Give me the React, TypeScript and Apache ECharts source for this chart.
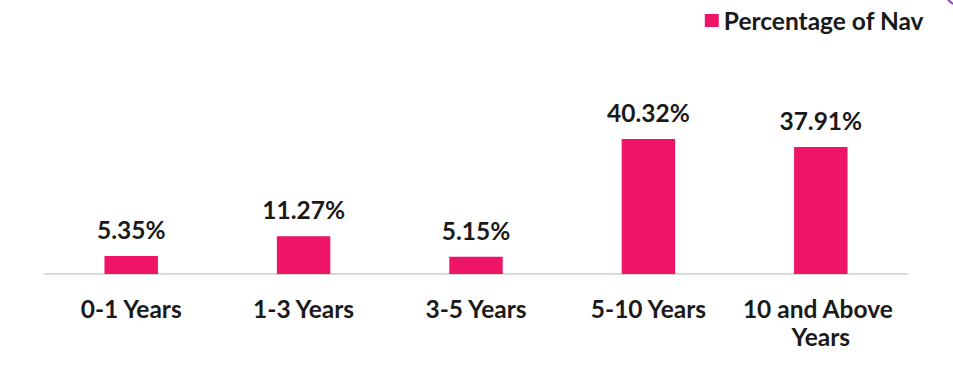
import React, { useEffect, useRef } from "react";
import * as echarts from "echarts";

const categories = ["0-1 Years", "1-3 Years", "3-5 Years", "5-10 Years", "10 and Above Years"];
const navValues = [5.35, 11.27, 5.15, 40.32, 37.91];
const seriesName = "Percentage of Nav";

export default function App() {
  const ref = useRef<HTMLDivElement>(null);
  useEffect(() => {
    document.body.style.margin = "0";
    const chart = echarts.init(ref.current!, null, { renderer: "svg" });
    const font = "Lato, 'Noto Sans', sans-serif";
    const fs = 24.5;
    chart.setOption({
      animation: false,
      backgroundColor: "#ffffff",
      textStyle: { fontFamily: font },
      legend: {
        data: [seriesName],
        right: 24,
        top: 3,
        itemWidth: 14,
        itemHeight: 13,
        itemGap: 6,
        icon: "rect",
        textStyle: { fontFamily: font, fontWeight: "bold", fontSize: fs, color: "#1a1a1a" },
      },
      grid: { left: 45, right: 46, top: 106.5, bottom: 98, containLabel: false },
      xAxis: {
        type: "category",
        data: categories,
        axisLine: { lineStyle: { color: "#d9d9d9", width: 2 } },
        axisTick: { show: false },
        axisLabel: {
          interval: 0,
          margin: 20,
          fontFamily: font,
          fontWeight: "bold",
          fontSize: fs,
          lineHeight: 28,
          color: "#1a1a1a",
          width: 172,
          overflow: "break",
        },
      },
      yAxis: {
        type: "value",
        min: 0,
        max: 50,
        show: false,
        splitLine: { show: false },
      },
      series: [
        {
          name: seriesName,
          type: "bar",
          data: navValues,
          barWidth: "31%",
          itemStyle: { color: "#EE1566" },
          label: {
            show: true,
            position: "top",
            distance: 14,
            formatter: (p: any) => p.value.toFixed(2) + "%",
            fontFamily: font,
            fontWeight: "bold",
            fontSize: fs,
            color: "#1a1a1a",
          },
        },
      ],
      graphic: [
        {
          type: "line",
          shape: { x1: 948, y1: 0, x2: 953, y2: 4 },
          style: { stroke: "#8a3fc7", lineWidth: 2 },
        },
      ],
    });
    return () => chart.dispose();
  }, []);
  return <div ref={ref} style={{ width: 953, height: 372 }} />;
}
